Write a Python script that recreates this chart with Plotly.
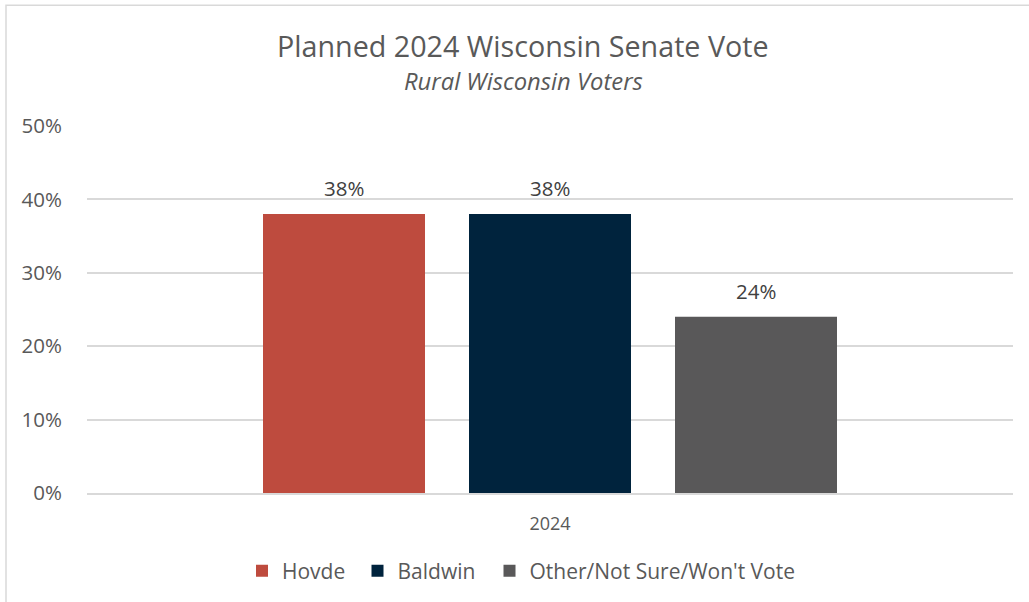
import plotly.graph_objects as go

# Survey results: planned vote share among rural Wisconsin voters
categories = ["2024"]
candidates = ["Hovde", "Baldwin", "Other/Not Sure/Won't Vote"]
vote_share = [38, 38, 24]
colors = ["#BE4B3E", "#00233D", "#595859"]

y_ticks = [0, 10, 20, 30, 40, 50]
y_tick_labels = ["0%", "10%", "20%", "30%", "40%", "50%"]

title_text = "Planned 2024 Wisconsin Senate Vote"
subtitle_text = "Rural Wisconsin Voters"

FONT = "Open Sans"
TEXT = "#595959"
W, H = 1029, 602
L, R, T, B = 87, 16, 126, 108
plot_w = W - L - R
plot_h = H - T - B
BARGAP, BARGROUPGAP = 0.3326, 0.2136


def px_x(px):
    """page x pixel -> paper x"""
    return (px - L) / plot_w


def px_y(py):
    """page y pixel -> paper y"""
    return (H - B - py) / plot_h


legend_names = ["legend", "legend2", "legend3"]
legend_left_px = [242, 357.5, 489.5]

fig = go.Figure()
for name, val, col, lg in zip(candidates, vote_share, colors, legend_names):
    fig.add_trace(go.Bar(
        x=categories, y=[val], name=name, legend=lg,
        marker=dict(color=col, line=dict(width=0)),
    ))

# value labels above each bar of the group
slot_px = plot_w * (1 - BARGAP) / len(vote_share)
for i, val in enumerate(vote_share):
    fig.add_annotation(
        x=0, y=val, xref="x", yref="y",
        xshift=(i - (len(vote_share) - 1) / 2) * slot_px,
        yshift=26, yanchor="middle", showarrow=False,
        text=f"{val}%", font=dict(family=FONT, size=20.5, color="#404040"),
    )

# title and subtitle
fig.add_annotation(
    x=px_x(523), y=px_y(45), xref="paper", yref="paper",
    xanchor="center", yanchor="middle", showarrow=False,
    text=title_text, font=dict(family=FONT, size=28.7, color=TEXT),
)
fig.add_annotation(
    x=px_x(523), y=px_y(81), xref="paper", yref="paper",
    xanchor="center", yanchor="middle", showarrow=False,
    text=f"<i>{subtitle_text}</i>", font=dict(family=FONT, size=23.8, color=TEXT),
)

# light frame around the chart area
fig.add_shape(
    type="rect", xref="paper", yref="paper",
    x0=px_x(6), x1=px_x(W + 20),
    y0=px_y(H + 20), y1=px_y(5),
    line=dict(color="#D9D9D9", width=1.5), fillcolor="rgba(0,0,0,0)", layer="below",
)

legend_common = dict(
    orientation="h", xanchor="left", yanchor="middle", yref="paper",
    y=px_y(571), font=dict(family=FONT, size=21, color=TEXT),
    bgcolor="rgba(0,0,0,0)", borderwidth=0,
)
legend_layout = {
    lg: dict(x=px_x(lx), **legend_common)
    for lg, lx in zip(legend_names, legend_left_px)
}

fig.update_layout(
    width=W, height=H,
    margin=dict(l=L, r=R, t=T, b=B),
    paper_bgcolor="white", plot_bgcolor="white",
    font=dict(family=FONT, color=TEXT),
    barmode="group", bargap=BARGAP, bargroupgap=BARGROUPGAP,
    showlegend=True,
    yaxis=dict(
        range=[0, 50], tickvals=y_ticks, ticktext=y_tick_labels,
        showgrid=True, gridcolor="#D9D9D9", gridwidth=1.5,
        zeroline=False, showline=False,
        tickfont=dict(family=FONT, size=20.5, color=TEXT),
        ticklabelstandoff=24,
    ),
    xaxis=dict(
        type="category", range=[-0.5, 0.5],
        showline=True, linecolor="#D9D9D9", linewidth=1.5,
        tickfont=dict(family=FONT, size=18, color=TEXT),
        ticklabelstandoff=14,
    ),
    **legend_layout,
)

fig.write_html("out.html")
